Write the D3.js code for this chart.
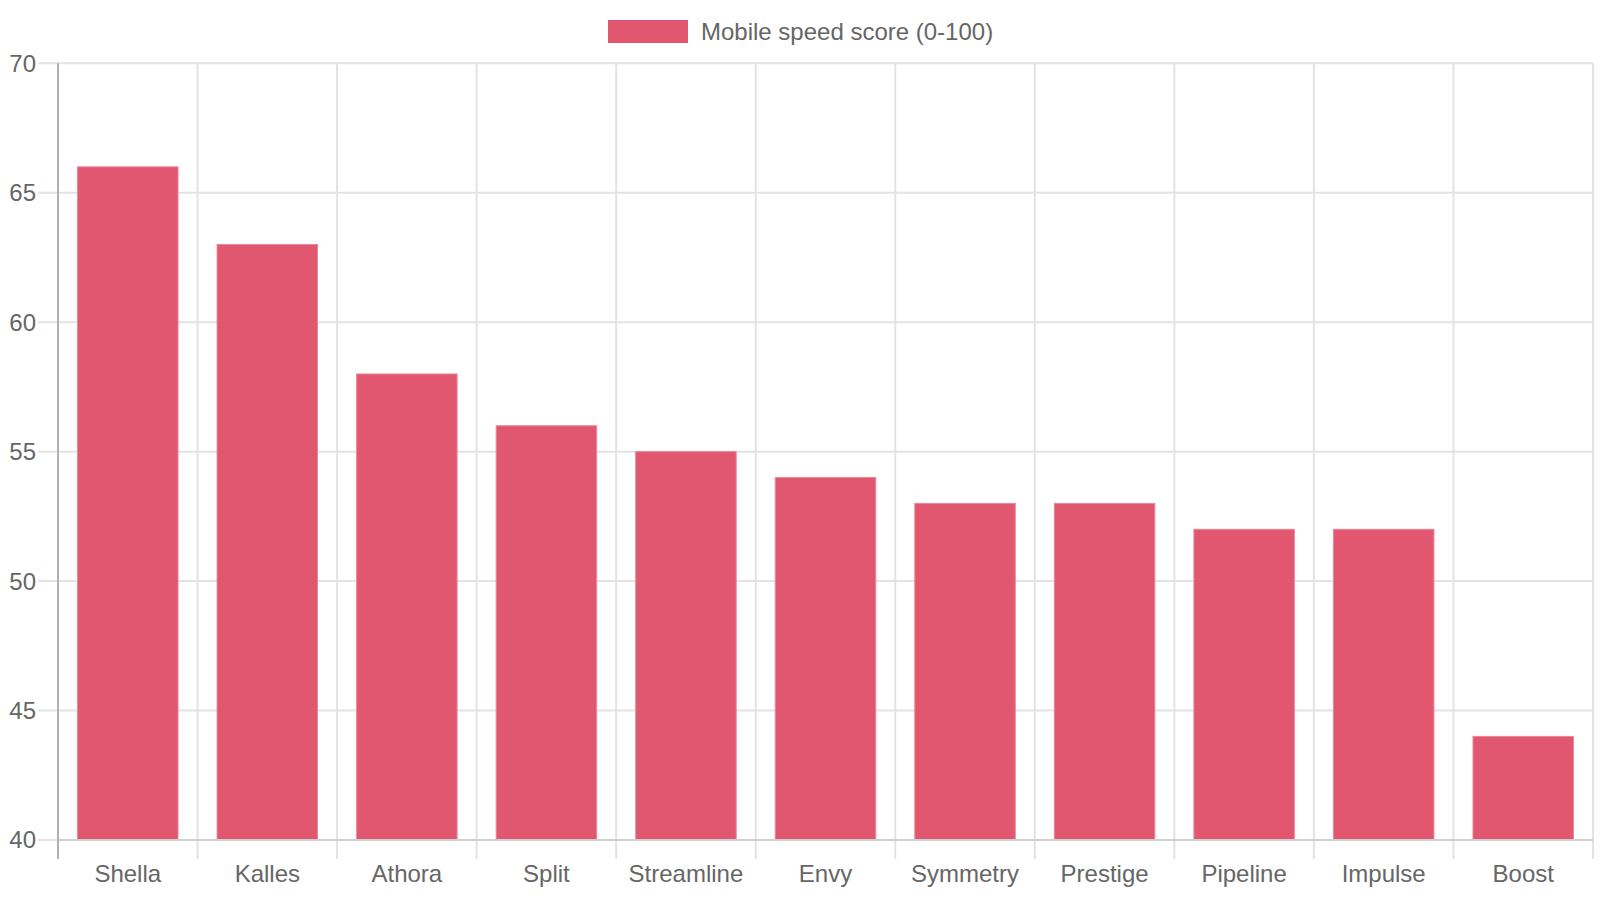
<!DOCTYPE html>
<html>
<head>
<meta charset="utf-8">
<script src="https://cdn.jsdelivr.net/npm/d3@7"></script>
<style>
  body { margin: 0; background: #fff; }
  text { font-family: "Liberation Sans", Arial, sans-serif; fill: #666; }
</style>
</head>
<body>
<script>
var categories = ["Shella", "Kalles", "Athora", "Split", "Streamline", "Envy", "Symmetry", "Prestige", "Pipeline", "Impulse", "Boost"];
var scores = [66, 63, 58, 56, 55, 54, 53, 53, 52, 52, 44];
var yTicks = [40, 45, 50, 55, 60, 65, 70];
var seriesName = "Mobile speed score (0-100)";

var w = 1600, h = 900;
var plot = { left: 58, right: 1593, top: 63.3, bottom: 840 };
var barColor = "#e15770";

var svg = d3.select("body").append("svg")
  .attr("width", w)
  .attr("height", h);

var x = d3.scaleBand()
  .domain(categories)
  .range([plot.left, plot.right]);

var y = d3.scaleLinear()
  .domain([40, 70])
  .range([plot.bottom, plot.top]);

// horizontal grid + y ticks
svg.append("g")
  .selectAll("line")
  .data(yTicks)
  .join("line")
  .attr("x1", plot.left - 20)
  .attr("x2", plot.right)
  .attr("y1", function(d) { return y(d); })
  .attr("y2", function(d) { return y(d); })
  .attr("stroke", "#e3e3e3")
  .attr("stroke-width", 2);

svg.append("g")
  .selectAll("text")
  .data(yTicks)
  .join("text")
  .attr("x", 36)
  .attr("y", function(d) { return y(d); })
  .attr("dy", "0.35em")
  .attr("text-anchor", "end")
  .style("font-size", "24px")
  .text(function(d) { return d; });

// vertical grid at band boundaries
var bounds = categories.map(function(c) { return x(c); }).concat([plot.right]);
svg.append("g")
  .selectAll("line")
  .data(bounds.slice(1))
  .join("line")
  .attr("x1", function(d) { return d; })
  .attr("x2", function(d) { return d; })
  .attr("y1", plot.top)
  .attr("y2", plot.bottom + 19)
  .attr("stroke", "#e3e3e3")
  .attr("stroke-width", 2);

// bars
var inner = x.bandwidth() * 0.72;
svg.append("g")
  .selectAll("rect")
  .data(scores)
  .join("rect")
  .attr("x", function(d, i) { return x(categories[i]) + (x.bandwidth() - inner) / 2; })
  .attr("y", function(d) { return y(d); })
  .attr("width", inner)
  .attr("height", function(d) { return plot.bottom - y(d); })
  .attr("fill", barColor)
  .attr("stroke", "#ea8497")
  .attr("stroke-width", 1);

// axes lines
svg.append("line")
  .attr("x1", plot.left).attr("x2", plot.right)
  .attr("y1", plot.bottom).attr("y2", plot.bottom)
  .attr("stroke", "#cfcfcf").attr("stroke-width", 2);

svg.append("line")
  .attr("x1", plot.left).attr("x2", plot.left)
  .attr("y1", plot.top).attr("y2", plot.bottom + 19)
  .attr("stroke", "#b0b0b0").attr("stroke-width", 2);

// x labels
svg.append("g")
  .selectAll("text")
  .data(categories)
  .join("text")
  .attr("x", function(d) { return x(d) + x.bandwidth() / 2; })
  .attr("y", 882)
  .attr("text-anchor", "middle")
  .style("font-size", "24px")
  .text(function(d) { return d; });

// legend
var legend = svg.append("g");
legend.append("rect")
  .attr("x", 608).attr("y", 20)
  .attr("width", 80).attr("height", 23)
  .attr("fill", barColor);
legend.append("text")
  .attr("x", 701).attr("y", 40)
  .style("font-size", "24px")
  .text(seriesName);
</script>
</body>
</html>
